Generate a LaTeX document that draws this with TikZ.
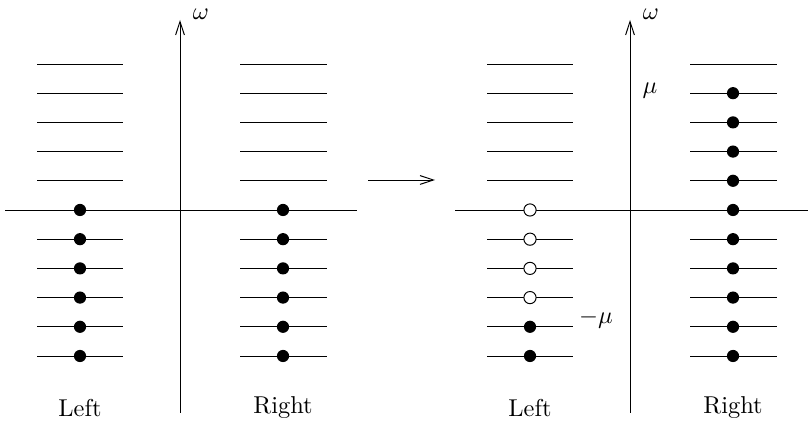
\documentclass[tikz,border=0pt]{standalone}
\usetikzlibrary{positioning, arrows.meta}

\begin{document}
\begin{tikzpicture}[x=0.0144cm, y=-0.0144cm, >={Straight Barb[length=5.5pt, width=3.6pt]},
    full/.style={circle, fill, inner sep=0pt, minimum size=5pt},
    empty/.style={circle, draw, fill=white, line width=0.4pt, inner sep=0pt, minimum size=5pt}]
    \useasboundingbox (0,0) rectangle (808,423);

    % before: both sides filled up to zero
    \coordinate (b1) at (180,413);
    \coordinate (t1) at (180,20);
    \coordinate (w1) at (5,210);
    \coordinate (e1) at (357,210);
    \draw [->] (b1) -- (t1);
    \draw (w1) -- (e1);
    \node (om1) at (201,14) {$\omega$};
    \foreach \k in {-5,...,5} {
        \draw (37,{210-29.2*\k}) -- (123,{210-29.2*\k});
        \draw (240,{210-29.2*\k}) -- (327,{210-29.2*\k});
    }
    \foreach \k in {-5,...,0} {
        \node [full] (dl\k) at (80,{210-29.2*\k}) {};
        \node [full] (dr\k) at (283,{210-29.2*\k}) {};
    }
    \node (left1) at (80,408) {Left};
    \node (right1) at (283,408) {Right};

    % the arrow between
    \coordinate (a) at (368,180);
    \coordinate (b) at (435,180);
    \draw [->] (a) -- (b);

    % after: shifted by mu
    \begin{scope}[shift={(450,0)}]
        \coordinate (b2) at (180,413);
        \coordinate (t2) at (180,20);
        \coordinate (w2) at (5,210);
        \coordinate (e2) at (358,210);
        \draw [->] (b2) -- (t2);
        \draw (w2) -- (e2);
        \node (om2) at (201,14) {$\omega$};
        \foreach \k in {-5,...,5} {
            \draw (37,{210-29.2*\k}) -- (123,{210-29.2*\k});
            \draw (240,{210-29.2*\k}) -- (327,{210-29.2*\k});
        }
        \foreach \k in {-3,...,0}
            \node [empty] (hl\k) at (80,{210-29.2*\k}) {};
        \foreach \k in {-5,-4}
            \node [full] (pl\k) at (80,{210-29.2*\k}) {};
        \foreach \k in {-5,...,4}
            \node [full] (pr\k) at (283,{210-29.2*\k}) {};
        \node (mu) at (200,91) {$\mu$};
        \node (mmu) at (146,319) {$-\mu$};
        \node (left2) at (80,408) {Left};
        \node (right2) at (283,408) {Right};
    \end{scope}
\end{tikzpicture}
\end{document}
